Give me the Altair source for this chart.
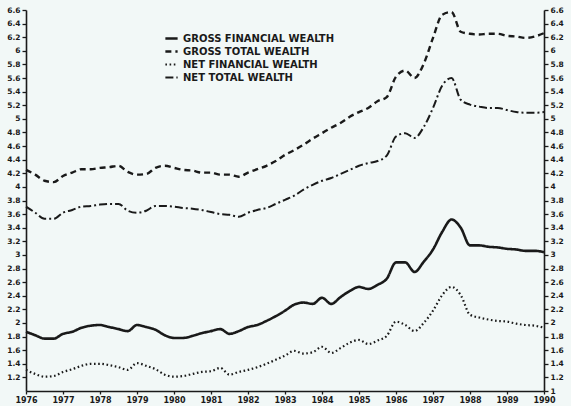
import altair as alt
import pandas as pd

# Quarterly observations, 1976Q1 .. 1990Q1 (ratio to income)
start_year = 1976
n_quarters = 57

gross_financial = [
    1.87, 1.82, 1.77, 1.77, 1.84, 1.87, 1.93, 1.96, 1.97, 1.94, 1.91, 1.88,
    1.97, 1.94, 1.90, 1.82, 1.78, 1.78, 1.81, 1.85, 1.88, 1.91, 1.84, 1.88,
    1.94, 1.97, 2.03, 2.10, 2.18, 2.27, 2.30, 2.28, 2.37, 2.28, 2.38, 2.47,
    2.53, 2.50, 2.56, 2.65, 2.89, 2.89, 2.75, 2.90, 3.08, 3.34, 3.52, 3.40,
    3.14, 3.14, 3.12, 3.11, 3.09, 3.08, 3.06, 3.06, 3.04,
]
gross_total = [
    4.25, 4.18, 4.09, 4.07, 4.16, 4.21, 4.26, 4.26, 4.28, 4.29, 4.31, 4.22,
    4.18, 4.19, 4.28, 4.31, 4.28, 4.25, 4.24, 4.21, 4.21, 4.18, 4.18, 4.15,
    4.21, 4.26, 4.31, 4.38, 4.47, 4.54, 4.62, 4.71, 4.79, 4.87, 4.94, 5.03,
    5.10, 5.16, 5.26, 5.32, 5.62, 5.71, 5.60, 5.81, 6.19, 6.53, 6.57, 6.28,
    6.25, 6.24, 6.25, 6.25, 6.22, 6.21, 6.19, 6.21, 6.26,
]
net_financial = [
    1.31, 1.25, 1.21, 1.22, 1.28, 1.32, 1.37, 1.40, 1.40, 1.38, 1.35, 1.31,
    1.41, 1.37, 1.32, 1.24, 1.21, 1.22, 1.25, 1.28, 1.29, 1.34, 1.24, 1.28,
    1.31, 1.35, 1.40, 1.46, 1.52, 1.59, 1.55, 1.57, 1.65, 1.56, 1.63, 1.71,
    1.75, 1.69, 1.74, 1.81, 2.02, 1.97, 1.88, 2.00, 2.18, 2.41, 2.53, 2.41,
    2.12, 2.08, 2.05, 2.03, 2.02, 1.99, 1.97, 1.96, 1.93,
]
net_total = [
    3.71, 3.62, 3.53, 3.53, 3.62, 3.66, 3.71, 3.72, 3.74, 3.75, 3.75, 3.65,
    3.62, 3.65, 3.72, 3.72, 3.71, 3.69, 3.68, 3.66, 3.63, 3.60, 3.59, 3.56,
    3.62, 3.66, 3.69, 3.75, 3.81, 3.87, 3.96, 4.03, 4.09, 4.13, 4.19, 4.25,
    4.31, 4.35, 4.38, 4.46, 4.74, 4.79, 4.72, 4.88, 5.16, 5.49, 5.60, 5.28,
    5.21, 5.18, 5.16, 5.16, 5.13, 5.10, 5.09, 5.09, 5.10,
]

series_names = [
    "GROSS FINANCIAL WEALTH",
    "GROSS TOTAL WEALTH",
    "NET FINANCIAL WEALTH",
    "NET TOTAL WEALTH",
]
series_values = [gross_financial, gross_total, net_financial, net_total]
dash_styles = [[1, 0], [6, 4], [1.6, 2.6], [8, 3, 2, 3]]
line_widths = [2.6, 2.0, 2.0, 2.0]

year_ticks = list(range(1976, 1991))
left_ticks = [round(1.2 + 0.2 * k, 1) for k in range(28)]
right_ticks = [round(1.0 + 0.2 * k, 1) for k in range(29)]

quarters = [start_year + i / 4 for i in range(n_quarters)]
rows = []
for name, vals in zip(series_names, series_values):
    for t, v in zip(quarters, vals):
        rows.append({"t": t, "value": v, "series": name})
df = pd.DataFrame(rows)

ink = "#1a1a1a"
label_font = "DejaVu Sans"

x_enc = alt.X(
    "t:Q",
    scale=alt.Scale(domain=[1976, 1990], nice=False, zero=False),
    axis=alt.Axis(
        values=year_ticks, format="d", title=None, grid=False,
        labelFontSize=8, labelFontWeight="bold", labelFont=label_font,
        labelColor=ink, tickColor=ink, domainColor=ink, domainWidth=1.6,
        tickWidth=1.3, tickSize=3, labelPadding=2, labelFlush=False,
    ),
)
y_scale = alt.Scale(domain=[1.0, 6.6], nice=False, zero=False)
axis_common = dict(
    title=None, grid=False, format="~g",
    labelFontSize=7.5, labelFontWeight="bold", labelFont=label_font,
    labelColor=ink, tickColor=ink, domainColor=ink, domainWidth=1.6,
    tickWidth=1.3, tickSize=4, labelPadding=2, labelFlush=False,
)

lines = alt.Chart(df).mark_line(interpolate="monotone", color=ink).encode(
    x=x_enc,
    y=alt.Y("value:Q", scale=y_scale,
            axis=alt.Axis(orient="left", values=left_ticks, **axis_common)),
    detail="series:N",
    strokeDash=alt.StrokeDash(
        "series:N",
        scale=alt.Scale(domain=series_names, range=dash_styles),
        legend=alt.Legend(
            title=None, orient="none", legendX=138, legendY=21,
            symbolType="stroke", symbolSize=150, symbolStrokeWidth=2,
            symbolStrokeColor=ink, labelFontSize=10, labelFont=label_font,
            labelFontWeight="bold", labelColor=ink, rowPadding=-1.5,
            labelOffset=4, symbolOffset=0,
        ),
    ),
    strokeWidth=alt.StrokeWidth(
        "series:N",
        scale=alt.Scale(domain=series_names, range=line_widths),
        legend=None,
    ),
)

right_axis = alt.Chart(df).mark_point(opacity=0).encode(
    x=x_enc,
    y=alt.Y("value:Q", scale=y_scale,
            axis=alt.Axis(orient="right", values=right_ticks, **axis_common)),
)

chart = (
    alt.layer(lines, right_axis)
    .resolve_scale(y="independent")
    .properties(
        width=518, height=381,
        autosize=alt.AutoSizeParams(type="none"),
        padding={"left": 26, "top": 10, "right": 27, "bottom": 15},
        background="#f2f8f7",
    )
    .configure_view(stroke=None)
)

chart.save("out.html", embed_options={"renderer": "svg", "actions": False})
